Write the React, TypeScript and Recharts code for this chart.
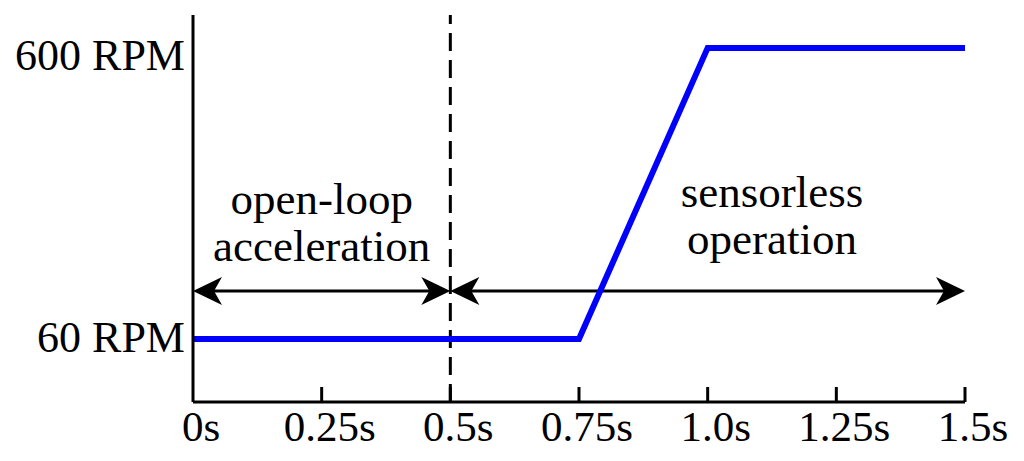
import { Line, LineChart, ReferenceDot, ReferenceLine, XAxis, YAxis } from "recharts";

// speed profile (time in s, speed in RPM)
const timeS = [0, 0.75, 1.0, 1.5];
const speedRpm = [60, 60, 600, 600];

const xTicks = [0, 0.25, 0.5, 0.75, 1.0, 1.25, 1.5];
const xTickLabels = ["0s", "0.25s", "0.5s", "0.75s", "1.0s", "1.25s", "1.5s"];
const yTicks = [60, 600];
const yTickLabels = ["60 RPM", "600 RPM"];

const phaseSplit = 0.5;
const arrowLevel = 149;
const phaseLabels = [
  { x: 0.25, y: 292, lines: ["open-loop", "acceleration"] },
  { x: 1.125, y: 305, lines: ["sensorless", "operation"] },
];

const FONT = "'Liberation Serif', 'Times New Roman', serif";

const data = timeS.map((t, i) => ({ t, rpm: speedRpm[i] }));

function XTick(props: any) {
  const { x, y, payload } = props;
  const idx = xTicks.indexOf(payload.value);
  return (
    <g>
      {payload.value !== 0 && <line x1={x} x2={x} y1={y - 15} y2={y} stroke="#000" strokeWidth={3} />}
      <text x={x + 8} y={y + 39} textAnchor="middle" fontFamily={FONT} fontSize={43} fill="#000">
        {xTickLabels[idx]}
      </text>
    </g>
  );
}

function YTick(props: any) {
  const { x, y, payload } = props;
  const idx = yTicks.indexOf(payload.value);
  const dy = payload.value === 600 ? 22 : 13;
  return (
    <text x={x - 8} y={y + dy} textAnchor="end" fontFamily={FONT} fontSize={44} fill="#000">
      {yTickLabels[idx]}
    </text>
  );
}

function head(x: number, y: number, dir: number) {
  const L = 29;
  const h = 14;
  const n = 21;
  return `${x},${y} ${x + dir * L},${y - h} ${x + dir * n},${y} ${x + dir * L},${y + h}`;
}

function DoubleArrow(props: any) {
  const { x1, y1, x2 } = props;
  return (
    <g>
      <line x1={x1 + 10} x2={x2 - 10} y1={y1} y2={y1} stroke="#000" strokeWidth={3} />
      <polygon points={head(x1, y1, 1)} fill="#000" />
      <polygon points={head(x2, y1, -1)} fill="#000" />
    </g>
  );
}

function PhaseText(lines: string[]) {
  return (props: any) => {
    const { cx, cy } = props;
    return (
      <text x={cx} y={cy} textAnchor="middle" fontFamily={FONT} fontSize={45} fill="#000">
        {lines.map((l, i) => (
          <tspan key={l} x={cx} dy={i === 0 ? 0 : 47}>
            {l}
          </tspan>
        ))}
      </text>
    );
  };
}

export default function App() {
  return (
    <div style={{ position: "absolute", left: 0, top: 0, background: "#fff" }}>
      <LineChart width={1024} height={461} data={data} margin={{ top: 15, right: 59, bottom: 0, left: 0 }}>
        <XAxis
          dataKey="t"
          type="number"
          domain={[0, 1.5]}
          ticks={xTicks}
          height={59}
          tickSize={0}
          tickMargin={0}
          tickLine={false}
          axisLine={{ stroke: "#000", strokeWidth: 3 }}
          tick={<XTick />}
          interval={0}
        />
        <YAxis
          type="number"
          domain={[-57, 661]}
          ticks={yTicks}
          width={193}
          tickSize={0}
          tickMargin={0}
          tickLine={false}
          axisLine={{ stroke: "#000", strokeWidth: 3 }}
          tick={<YTick />}
          interval={0}
        />
        <ReferenceLine x={phaseSplit} stroke="#000" strokeWidth={3} strokeDasharray="18 9" />
        <ReferenceLine
          segment={[
            { x: 0, y: arrowLevel },
            { x: phaseSplit, y: arrowLevel },
          ]}
          shape={DoubleArrow}
        />
        <ReferenceLine
          segment={[
            { x: phaseSplit, y: arrowLevel },
            { x: 1.5, y: arrowLevel },
          ]}
          shape={DoubleArrow}
        />
        {phaseLabels.map((p) => (
          <ReferenceDot key={p.lines[0]} x={p.x} y={p.y} r={0} shape={PhaseText(p.lines)} />
        ))}
        <Line
          type="linear"
          dataKey="rpm"
          stroke="#0000ff"
          strokeWidth={6}
          strokeLinejoin="miter"
          dot={false}
          activeDot={false}
          isAnimationActive={false}
        />
      </LineChart>
    </div>
  );
}
